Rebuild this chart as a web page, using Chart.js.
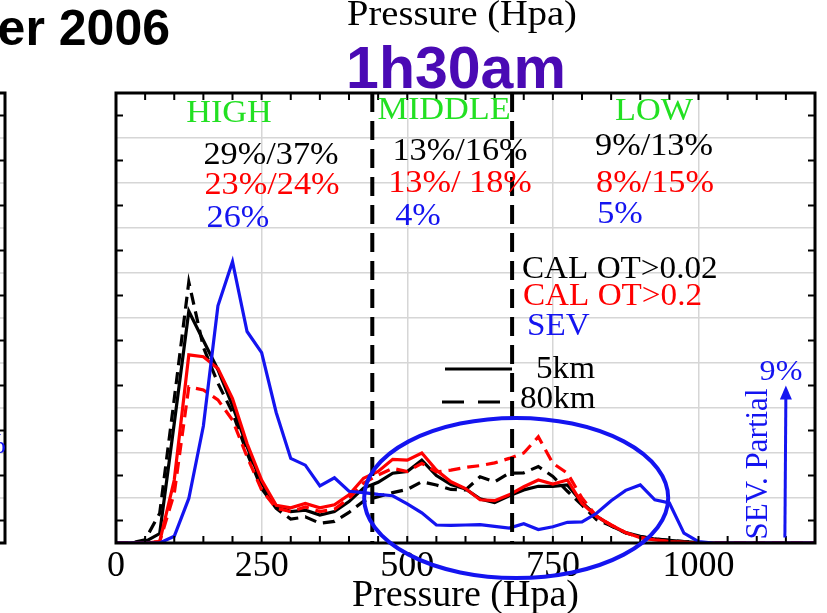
<!DOCTYPE html>
<html>
<head>
<meta charset="utf-8">
<script src="https://cdn.jsdelivr.net/npm/chart.js@4.4.0/dist/chart.umd.min.js"></script>
<style>
    body { margin: 0; background: #fff; }
    canvas { display: block; }
</style>
</head>
<body>
<canvas id="chart" width="827" height="613"></canvas>
<script>
// Pressure bins (hPa)
const pressure = [0, 25, 50, 75, 100, 125, 150, 175, 200, 225, 250, 275, 300, 325, 350, 375, 400, 425, 450, 475,
    500, 525, 550, 575, 600, 625, 650, 675, 700, 725, 750, 775, 800, 825, 850, 875, 900, 925, 950, 975,
    1000, 1025, 1050, 1075, 1100, 1125, 1150, 1175, 1200];

// CALIPSO OT>0.02, 5km (black solid) / 80km (black dashed)
const cal5Low = [0, 0, 0.03, 0.21, 2.66, 5.15, 4.5, 3.85, 3.05, 2.14, 1.33, 0.82, 0.7, 0.73, 0.62, 0.7, 0.92, 1.22, 1.35, 1.55,
    1.59, 1.84, 1.5, 1.3, 1.2, 0.98, 0.9, 1.05, 1.18, 1.26, 1.26, 1.29, 0.9, 0.6, 0.38, 0.23, 0.15, 0.09, 0.06, 0.03,
    0.01, 0, 0, 0, 0, 0, 0, 0, 0];
const cal80Low = [0, 0, 0.07, 0.66, 3.2, 5.8, 4.35, 3.55, 2.9, 2.0, 1.21, 0.77, 0.53, 0.58, 0.44, 0.48, 0.68, 0.93, 1.03, 1.12,
    1.19, 1.36, 1.29, 1.19, 1.18, 1.47, 1.36, 1.55, 1.56, 1.7, 1.48, 1.15, 0.84, 0.52, 0.38, 0.22, 0.14, 0.09, 0.06, 0.03,
    0.01, 0, 0, 0, 0, 0, 0, 0, 0];

// CALIPSO OT>0.2, 5km (red solid) / 80km (red dashed)
const cal5High = [0, 0, 0, 0.03, 1.4, 4.18, 4.14, 3.88, 3.21, 2.21, 1.4, 0.84, 0.78, 0.88, 0.78, 0.85, 1.07, 1.44, 1.59, 1.86,
    1.84, 2.0, 1.62, 1.36, 1.21, 0.96, 0.94, 1.07, 1.25, 1.4, 1.31, 1.4, 0.88, 0.59, 0.4, 0.23, 0.12, 0.07, 0.03, 0.015,
    0, 0, 0, 0, 0, 0, 0, 0, 0];
const cal80High = [0, 0, 0, 0.03, 1.1, 3.47, 3.4, 3.18, 2.73, 1.92, 1.18, 0.77, 0.7, 0.8, 0.7, 0.75, 0.99, 1.33, 1.51, 1.66,
    1.59, 1.77, 1.58, 1.62, 1.68, 1.72, 1.78, 1.88, 2.0, 2.36, 1.77, 1.55, 1.0, 0.59, 0.4, 0.23, 0.12, 0.07, 0.03, 0.015,
    0, 0, 0, 0, 0, 0, 0, 0, 0];

// SEVIRI (blue)
const sev = [0, 0, 0, 0, 0.15, 0.99, 2.6, 5.27, 6.25, 4.7, 4.23, 2.9, 1.88, 1.73, 1.27, 1.45, 1.15, 1.12, 1.08, 1.05,
    0.87, 0.67, 0.4, 0.39, 0.4, 0.41, 0.37, 0.33, 0.43, 0.3, 0.36, 0.46, 0.47, 0.66, 0.94, 1.17, 1.29, 0.96, 0.89, 0.22,
    0.03, 0, 0, 0, 0, 0, 0, 0, 0];

// Layer boundaries (hPa) and tick labels
const layerBounds = [440, 680];
const xTickLabels = [0, 250, 500, 750, 1000];

const SERIF = "'Liberation Serif', 'Times New Roman', serif";
const SANS = "'Liberation Sans', Arial, sans-serif";
const BLUE = '#1414f0';
const RED = '#ff0000';
const GREEN = '#22e022';

function series(label, values, color, dash) {
    return {
        label: label,
        data: pressure.map((p, i) => ({ x: p, y: values[i] })),
        borderColor: color,
        borderWidth: 3.2,
        borderDash: dash,
        pointRadius: 0,
        tension: 0,
        fill: false
    };
}

function drawText(ctx, text, x, y, color, font, align, sx) {
    ctx.save();
    ctx.translate(x, y);
    ctx.scale(sx || 1, 1);
    ctx.font = font;
    ctx.fillStyle = color;
    ctx.textAlign = align || 'center';
    ctx.textBaseline = 'alphabetic';
    ctx.fillText(text, 0, 0);
    ctx.restore();
}

const decor = {
    id: 'decor',
    afterDatasetsDraw(chart) {
        const { ctx, chartArea: a, scales: { x, y } } = chart;
        ctx.save();

        // HIGH / MIDDLE / LOW boundaries
        ctx.strokeStyle = '#000';
        ctx.lineWidth = 4;
        ctx.setLineDash([19, 9]);
        layerBounds.forEach(p => {
            const px = x.getPixelForValue(p);
            ctx.beginPath();
            ctx.moveTo(px, a.top);
            ctx.lineTo(px, a.bottom);
            ctx.stroke();
        });
        ctx.setLineDash([]);

        // frame
        ctx.lineWidth = 3;
        ctx.strokeRect(a.left, a.top, a.right - a.left, a.bottom - a.top);

        // inward tick marks
        ctx.lineWidth = 2;
        ctx.beginPath();
        x.ticks.forEach(t => {
            if (t.value <= 0 || t.value >= 1200) return;
            const px = x.getPixelForValue(t.value);
            ctx.moveTo(px, a.bottom); ctx.lineTo(px, a.bottom - 7);
            ctx.moveTo(px, a.top); ctx.lineTo(px, a.top + 7);
        });
        y.ticks.forEach(t => {
            if (t.value % 1 === 0) return;
            const py = y.getPixelForValue(t.value);
            ctx.moveTo(a.left, py); ctx.lineTo(a.left + 7, py);
            ctx.moveTo(a.right, py); ctx.lineTo(a.right - 7, py);
            // edge of the neighbouring panel
            ctx.moveTo(5, py); ctx.lineTo(-2, py);
        });
        ctx.stroke();

        // neighbouring panel edge
        ctx.strokeStyle = '#d6d6d6';
        ctx.lineWidth = 1.5;
        ctx.beginPath();
        y.ticks.forEach(t => {
            if (t.value % 1 !== 0 || t.value === 0 || t.value === 10) return;
            const py = y.getPixelForValue(t.value);
            ctx.moveTo(0, py); ctx.lineTo(4, py);
        });
        ctx.stroke();
        ctx.strokeStyle = '#000';
        ctx.lineWidth = 3;
        ctx.beginPath();
        ctx.moveTo(0, a.top); ctx.lineTo(5, a.top); ctx.lineTo(5, a.bottom); ctx.lineTo(0, a.bottom);
        ctx.stroke();

        // highlighted region
        const cx = x.getPixelForValue(687), cy = y.getPixelForValue(1.0);
        const rx = x.getPixelForValue(687 + 261) - cx;
        const ry = cy - y.getPixelForValue(1.0 + 1.78);
        ctx.strokeStyle = BLUE;
        ctx.lineWidth = 4;
        ctx.beginPath();
        ctx.ellipse(cx, cy, rx, ry, 0, 0, Math.PI * 2);
        ctx.stroke();

        // SEV partial arrow
        const ax = x.getPixelForValue(1150);
        const ay0 = y.getPixelForValue(0.12), ay1 = y.getPixelForValue(3.5);
        ctx.lineWidth = 3;
        ctx.beginPath();
        ctx.moveTo(ax - 1, ay0); ctx.lineTo(ax, ay1 + 10);
        ctx.stroke();
        ctx.fillStyle = BLUE;
        ctx.beginPath();
        ctx.moveTo(ax, ay1); ctx.lineTo(ax - 6, ay1 + 14); ctx.lineTo(ax + 6, ay1 + 14);
        ctx.closePath();
        ctx.fill();

        // legend lines
        ctx.strokeStyle = '#000';
        ctx.lineWidth = 3.2;
        ctx.beginPath();
        ctx.moveTo(445, 369); ctx.lineTo(512, 369);
        ctx.stroke();
        ctx.setLineDash([22, 14]);
        ctx.beginPath();
        ctx.moveTo(442, 402); ctx.lineTo(505, 402);
        ctx.stroke();
        ctx.restore();
    },
    afterDraw(chart) {
        const ctx = chart.ctx;
        const f = size => size + 'px ' + SERIF;

        // headers
        drawText(ctx, 'er 2006', 170, 45, '#000', 'bold 50px ' + SANS, 'right');
        drawText(ctx, 'Pressure (Hpa)', 462, 25, '#000', f(35), 'center', 1.1);
        drawText(ctx, '1h30am', 456, 88, '#4a0ab4', 'bold 59px ' + SANS, 'center');

        // layer labels and fractions
        const s = 1.07;
        drawText(ctx, 'HIGH', 229, 122, GREEN, f(32), 'center', s);
        drawText(ctx, 'MIDDLE', 444, 119, GREEN, f(32), 'center', s);
        drawText(ctx, 'LOW', 654, 120, GREEN, f(32), 'center', s);
        drawText(ctx, '29%/37%', 271, 164, '#000', f(32), 'center', s);
        drawText(ctx, '23%/24%', 272, 194, RED, f(32), 'center', s);
        drawText(ctx, '26%', 238, 227, BLUE, f(32), 'center', s);
        drawText(ctx, '13%/16%', 460, 160, '#000', f(32), 'center', s);
        drawText(ctx, '13%/ 18%', 460, 192, RED, f(32), 'center', s);
        drawText(ctx, '4%', 418, 225, BLUE, f(32), 'center', s);
        drawText(ctx, '9%/13%', 654, 155, '#000', f(32), 'center', s);
        drawText(ctx, '8%/15%', 655, 192, RED, f(32), 'center', s);
        drawText(ctx, '5%', 620, 223, BLUE, f(32), 'center', s);

        // legend text
        drawText(ctx, 'CAL OT>0.02', 522, 278, '#000', f(31), 'left', s);
        drawText(ctx, 'CAL OT>0.2', 523, 305, RED, f(31), 'left', s);
        drawText(ctx, 'SEV', 527, 335, BLUE, f(31), 'left', s);
        drawText(ctx, '5km', 536, 378, '#000', f(31), 'left', s);
        drawText(ctx, '80km', 520, 408, '#000', f(31), 'left', s);

        // SEV partial note
        drawText(ctx, '9%', 781, 380, BLUE, f(30), 'center', s);
        ctx.save();
        ctx.translate(767, 464);
        ctx.rotate(-Math.PI / 2);
        drawText(ctx, 'SEV. Partial', 0, 0, BLUE, f(31), 'center', 1);
        ctx.restore();

        // fragment of neighbouring panel text
        drawText(ctx, '9%', 6, 453, BLUE, f(30), 'right', s);
    }
};

new Chart(document.getElementById('chart'), {
    type: 'line',
    data: {
        datasets: [
            series('SEV', sev, BLUE, []),
            series('CAL OT>0.2 5km', cal5High, RED, []),
            series('CAL OT>0.2 80km', cal80High, RED, [12, 7]),
            series('CAL OT>0.02 5km', cal5Low, '#000', []),
            series('CAL OT>0.02 80km', cal80Low, '#000', [12, 7])
        ]
    },
    options: {
        responsive: false,
        animation: false,
        layout: { padding: { left: 116, right: 12, top: 93, bottom: 0 } },
        plugins: {
            legend: { display: false },
            tooltip: { enabled: false }
        },
        scales: {
            x: {
                type: 'linear',
                min: 0,
                max: 1200,
                border: { display: false },
                grid: {
                    drawTicks: false,
                    lineWidth: 1.5,
                    color: c => (c.tick && c.tick.value % 250 === 0 && c.tick.value > 0 && c.tick.value < 1200)
                        ? '#d6d6d6' : 'rgba(0,0,0,0)'
                },
                ticks: {
                    stepSize: 50,
                    maxTicksLimit: 100,
                    autoSkip: false,
                    maxRotation: 0,
                    padding: 2,
                    color: '#000',
                    font: { family: SERIF, size: 36 },
                    callback: v => xTickLabels.includes(v) ? String(v) : ''
                },
                title: {
                    display: true,
                    text: 'Pressure (Hpa)',
                    color: '#000',
                    font: { family: SERIF, size: 38, lineHeight: 0.9 },
                    padding: 0
                },
                afterFit: s => { s.height = 70; }
            },
            y: {
                min: 0,
                max: 10,
                border: { display: false },
                grid: {
                    drawTicks: false,
                    lineWidth: 1.5,
                    color: c => (c.tick && c.tick.value % 1 === 0 && c.tick.value > 0 && c.tick.value < 10)
                        ? '#d6d6d6' : 'rgba(0,0,0,0)'
                },
                ticks: { display: false, stepSize: 0.5, maxTicksLimit: 100 },
                afterFit: s => { s.width = 0; }
            }
        }
    },
    plugins: [decor]
});
</script>
</body>
</html>
